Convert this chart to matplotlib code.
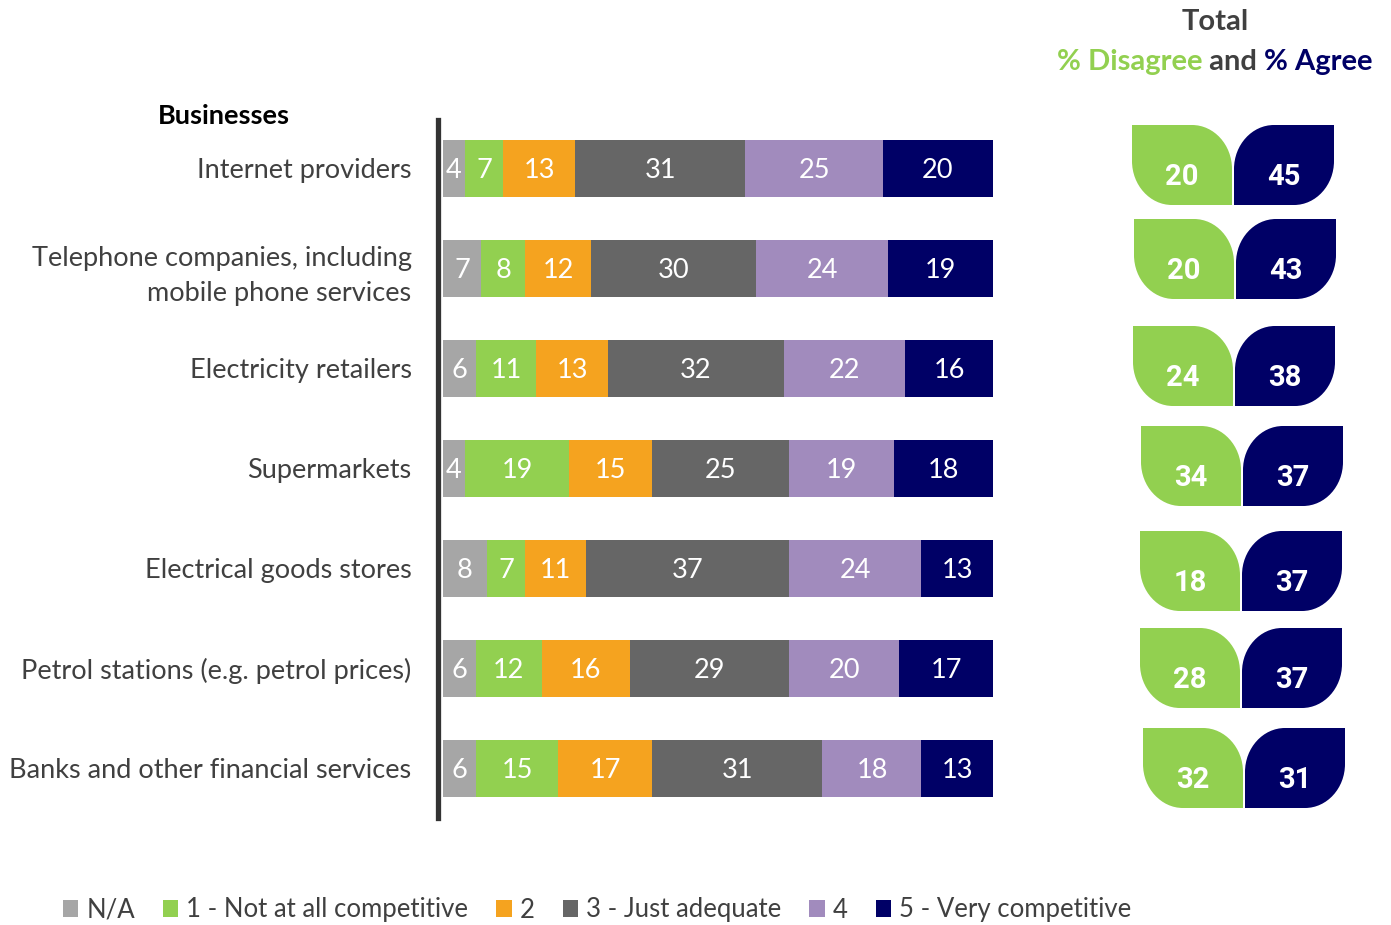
import matplotlib.pyplot as plt
import numpy as np
from matplotlib.path import Path
from matplotlib.patches import PathPatch
from matplotlib.offsetbox import TextArea, HPacker, AnnotationBbox

plt.rcParams['font.family'] = ['Lato', 'DejaVu Sans']

# -----------------------Data-----------------------
businesses = ['Internet providers',
              'Telephone companies, including\nmobile phone services',
              'Electricity retailers',
              'Supermarkets',
              'Electrical goods stores',
              'Petrol stations (e.g. petrol prices)',
              'Banks and other financial services']
series_names = ['N/A', '1 - Not at all competitive', '2', '3 - Just adequate', '4', '5 - Very competitive']
na = [4, 7, 6, 4, 8, 6, 6]
score_1 = [7, 8, 11, 19, 7, 12, 15]
score_2 = [13, 12, 13, 15, 11, 16, 17]
score_3 = [31, 30, 32, 25, 37, 29, 31]
score_4 = [25, 24, 22, 19, 24, 20, 18]
score_5 = [20, 19, 16, 18, 13, 17, 13]
total_disagree = [20, 20, 24, 34, 18, 28, 32]
total_agree = [45, 43, 38, 37, 37, 37, 31]

# -----------------------Style-----------------------
W, H = 1391, 925
grey = '#A6A6A6'
green = '#92D050'
orange = '#F5A31F'
grey_dark = '#666666'
lilac = '#A18BBD'
navy = '#000066'
text_dark = '#404040'
colors = [grey, green, orange, grey_dark, lilac, navy]
label_size = 19.5
value_size = 19.5
header_size = 21
legend_size = 18.5

fig = plt.figure(figsize=(W / 100, H / 100), dpi=100)

def fig_box(x0, y0, x1, y1):
    return [x0 / W, 1 - y1 / H, (x1 - x0) / W, (y1 - y0) / H]

# -----------------------Stacked bars-----------------------
ax = fig.add_axes(fig_box(438, 120, 993, 818))
ypos = np.arange(len(businesses))
series = [na, score_1, score_2, score_3, score_4, score_5]
left = np.zeros(len(businesses))
handles = []
for name, vals, c in zip(series_names, series, colors):
    vals = np.array(vals, dtype=float)
    bars = ax.barh(ypos, vals, left=left, height=0.57, color=c, label=name)
    handles.append(bars)
    for y, l, v in zip(ypos, left, vals):
        ax.text(l + v / 2, y + 0.02, f'{v:.0f}', ha='center', va='center',
                color='white', fontsize=value_size)
    left += vals

ax.set_xlim(-0.9, 100)
ax.set_ylim(6.5, -0.48)
ax.set_yticks(ypos)
ax.set_yticklabels(businesses, fontsize=label_size, color=text_dark, linespacing=1.5)
ax.tick_params(axis='y', length=0, pad=19)
ax.set_xticks([])
for s in ['top', 'right', 'bottom']:
    ax.spines[s].set_visible(False)
ax.spines['left'].set_linewidth(3.8)
ax.spines['left'].set_color('#333333')
fig.text(224 / W, 1 - 116 / H, 'Businesses', ha='center', va='center',
         fontsize=label_size, fontweight='bold', color='black')

# -----------------------Leaf badges-----------------------
lax = fig.add_axes(fig_box(1120, 120, W, 818))
lax.set_xlim(1120, W)
lax.set_ylim(6.5, -0.48)
lax.axis('off')

def leaf(x0, x1, y0, y1, flip):
    # y0 is the top edge, y1 the bottom edge (the y axis is inverted)
    rx = 0.4 * (x1 - x0)
    ry = 0.55 * (y1 - y0)
    k = 0.55
    C = Path.CURVE4
    if not flip:
        # square top-left and bottom-right corners
        verts = [(x0, y0), (x1 - rx, y0),
                 (x1 - rx + k * rx, y0), (x1, y0 + ry - k * ry), (x1, y0 + ry),
                 (x1, y1), (x0 + rx, y1),
                 (x0 + rx - k * rx, y1), (x0, y1 - ry + k * ry), (x0, y1 - ry),
                 (x0, y0)]
        codes = [Path.MOVETO, Path.LINETO, C, C, C,
                 Path.LINETO, Path.LINETO, C, C, C, Path.CLOSEPOLY]
    else:
        # square top-right and bottom-left corners
        verts = [(x0 + rx, y0), (x1, y0), (x1, y1 - ry),
                 (x1, y1 - ry + k * ry), (x1 - rx + k * rx, y1), (x1 - rx, y1),
                 (x0, y1), (x0, y0 + ry),
                 (x0, y0 + ry - k * ry), (x0 + rx - k * rx, y0), (x0 + rx, y0),
                 (x0 + rx, y0)]
        codes = [Path.MOVETO, Path.LINETO, Path.LINETO, C, C, C,
                 Path.LINETO, Path.LINETO, C, C, C, Path.CLOSEPOLY]
    return Path(verts, codes)

leaf_x = [1132, 1134, 1133, 1141, 1140, 1140, 1143]
leaf_dy = [-0.03, -0.09, -0.02, -0.02, 0.03, 0.0, 0.0]
leaf_w = 100
leaf_h = 0.8
for i, (d, a) in enumerate(zip(total_disagree, total_agree)):
    x0 = leaf_x[i]
    yc = i + leaf_dy[i]
    top, bot = yc - leaf_h / 2, yc + leaf_h / 2
    lax.add_patch(PathPatch(leaf(x0, x0 + leaf_w, top, bot, False),
                            facecolor=green, edgecolor='none'))
    lax.add_patch(PathPatch(leaf(x0 + leaf_w + 2, x0 + 2 * leaf_w + 2, top, bot, True),
                            facecolor=navy, edgecolor='none'))
    for xc, v in [(x0 + leaf_w / 2, d), (x0 + 1.5 * leaf_w + 2, a)]:
        lax.text(xc, yc + 0.12, str(v), ha='center', va='center', color='white',
                 fontsize=21, fontweight='bold',
                 family=['Liberation Sans Narrow', 'Roboto', 'DejaVu Sans'])

# -----------------------Header-----------------------
fig.text(1215 / W, 1 - 22 / H, 'Total', ha='center', va='center',
         fontsize=header_size, fontweight='bold', color=text_dark)
parts = [('% Disagree', green), (' and ', text_dark), ('% Agree', navy)]
boxes = [TextArea(t, textprops=dict(color=c, fontsize=header_size, fontweight='bold'))
         for t, c in parts]
packed = HPacker(children=boxes, align='baseline', pad=0, sep=0)
fig.add_artist(AnnotationBbox(packed, (1215 / W, 1 - 62 / H), xycoords='figure fraction',
                              frameon=False, box_alignment=(0.5, 0.5)))

# -----------------------Legend-----------------------
fig.legend(handles=handles, labels=series_names, loc='center', ncol=6,
           bbox_to_anchor=(597 / W, 1 - 910 / H), frameon=False,
           fontsize=legend_size, handlelength=0.6, handleheight=0.6,
           handletextpad=0.3, columnspacing=1.1, labelcolor=text_dark)

fig.savefig('out.png', dpi=100)
